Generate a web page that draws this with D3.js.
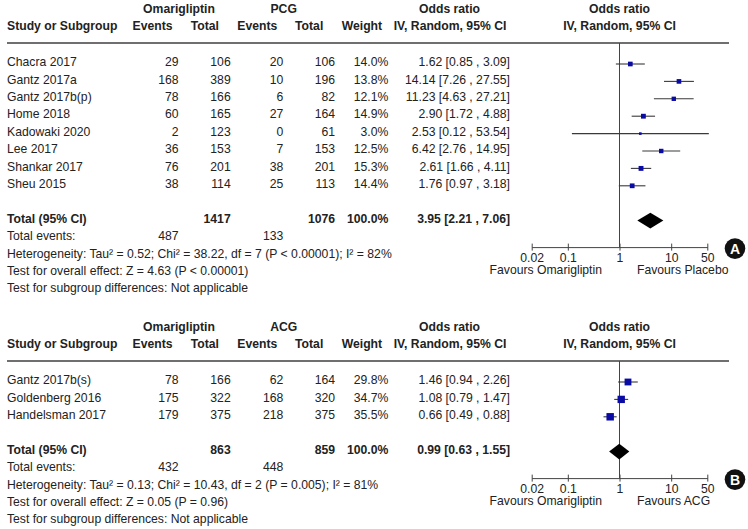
<!DOCTYPE html>
<html><head><meta charset="utf-8">
<script src="https://cdn.jsdelivr.net/npm/d3@7"></script>
<style>
body{margin:0;background:#fff}
text{font-family:"Liberation Sans",Arial,sans-serif;font-size:12.2px;fill:#222}
.b{font-weight:bold}
</style>
</head><body>
<svg id="c" width="748" height="529"></svg>
<script>
// ---------- Data: panel A (Omarigliptin vs PCG) ----------
const studiesA   = ["Chacra 2017","Gantz 2017a","Gantz 2017b(p)","Home 2018","Kadowaki 2020","Lee 2017","Shankar 2017","Sheu 2015"];
const omaEventsA = [29,168,78,60,2,36,76,38];
const omaTotalA  = [106,389,166,165,123,153,201,114];
const ctlEventsA = [20,10,6,27,0,7,38,25];
const ctlTotalA  = [106,196,82,164,61,153,201,113];
const weightA    = [14.0,13.8,12.1,14.9,3.0,12.5,15.3,14.4];
const orA        = [1.62,14.14,11.23,2.90,2.53,6.42,2.61,1.76];
const lowA       = [0.85,7.26,4.63,1.72,0.12,2.76,1.66,0.97];
const highA      = [3.09,27.55,27.21,4.88,53.54,14.95,4.11,3.18];
const totalsA    = [1417,1076];
const totEventsA = [487,133];
const pooledA    = [3.95,2.21,7.06];
const footerA    = ["Heterogeneity: Tau² = 0.52; Chi² = 38.22, df = 7 (P < 0.00001); I² = 82%",
                    "Test for overall effect: Z = 4.63 (P < 0.00001)",
                    "Test for subgroup differences: Not applicable"];

// ---------- Data: panel B (Omarigliptin vs ACG) ----------
const studiesB   = ["Gantz 2017b(s)","Goldenberg 2016","Handelsman 2017"];
const omaEventsB = [78,175,179];
const omaTotalB  = [166,322,375];
const ctlEventsB = [62,168,218];
const ctlTotalB  = [164,320,375];
const weightB    = [29.8,34.7,35.5];
const orB        = [1.46,1.08,0.66];
const lowB       = [0.94,0.79,0.49];
const highB      = [2.26,1.47,0.88];
const totalsB    = [863,859];
const totEventsB = [432,448];
const pooledB    = [0.99,0.63,1.55];
const footerB    = ["Heterogeneity: Tau² = 0.13; Chi² = 10.43, df = 2 (P = 0.005); I² = 81%",
                    "Test for overall effect: Z = 0.05 (P = 0.96)",
                    "Test for subgroup differences: Not applicable"];

// ---------- Axis ticks ----------
const tickValues = [0.02,0.1,1,10,50];
const tickLabels = ["0.02","0.1","1","10","50"];

const svg = d3.select("#c");
const x = d3.scaleLog().domain([0.02,50]).range([531.7,707.3]);
const f2 = d3.format(".2f"), f1 = d3.format(".1f");
const ciText = (o,l,h) => `${f2(o)} [${f2(l)} , ${f2(h)}]`;
const STEP = 17.4;

function panel(p){
  const g = svg.append("g").attr("transform",`translate(0,${p.top})`);
  const n = p.studies.length;
  const y = d3.scaleLinear().domain([0,1]).range([64,64+STEP]);
  const totalY = y(n-1+2);
  const axisY = totalY + 26.5;
  const t = (s,xx,yy,anchor,bold)=>g.append("text").attr("x",xx).attr("y",yy)
      .attr("text-anchor",anchor||"start").attr("class",bold?"b":null).text(s);

  // headers
  t("Omarigliptin",179,12.6,"middle",true);
  t(p.ctlName,283.7,12.6,"middle",true);
  t("Odds ratio",449.5,12.6,"middle",true);
  t("Odds ratio",619.5,12.6,"middle",true);
  t("Study or Subgroup",7,30.3,"start",true);
  t("Events",172.5,30.3,"end",true);
  t("Total",219,30.3,"end",true);
  t("Events",277.3,30.3,"end",true);
  t("Total",323.3,30.3,"end",true);
  t("Weight",341.7,30.3,"start",true);
  t("IV, Random, 95% CI",450,30.3,"middle",true);
  t("IV, Random, 95% CI",619.5,30.3,"middle",true);

  g.append("line").attr("x1",7).attr("x2",729).attr("y1",43).attr("y2",43)
    .attr("stroke","#6f6f6f").attr("stroke-width",2);

  // null line
  g.append("line").attr("x1",x(1)).attr("x2",x(1)).attr("y1",43).attr("y2",axisY)
    .attr("stroke","#444").attr("stroke-width",1);

  // study rows
  p.studies.forEach((s,i)=>{
    const yy = y(i), tb = yy+2.2;
    t(s,7,tb);
    t(p.omaEvents[i],178.5,tb,"end");
    t(p.omaTotal[i],230.7,tb,"end");
    t(p.ctlEvents[i],283.3,tb,"end");
    t(p.ctlTotal[i],335,tb,"end");
    t(f1(p.weight[i])+"%",388.3,tb,"end");
    t(ciText(p.or[i],p.low[i],p.high[i]),510,tb,"end");
    g.append("line").attr("x1",x(Math.max(p.low[i],0.02))).attr("x2",x(p.high[i]))
      .attr("y1",yy).attr("y2",yy).attr("stroke","#3a3a3a").attr("stroke-width",1.1);
    const side = Math.max(2.6,1.25*Math.sqrt(p.weight[i]));
    g.append("rect").attr("x",x(p.or[i])-side/2).attr("y",yy-side/2)
      .attr("width",side).attr("height",side).attr("fill","#0a0aa5");
  });

  // total row
  const tb = totalY+2.2;
  t("Total (95% CI)",7,tb,"start",true);
  t(p.totals[0],230.7,tb,"end",true);
  t(p.totals[1],335,tb,"end",true);
  t("100.0%",388.3,tb,"end",true);
  t(ciText(p.pooled[0],p.pooled[1],p.pooled[2]),510,tb,"end",true);
  const h = 7.8;
  g.append("path").attr("d",`M${x(p.pooled[1])},${totalY}L${x(p.pooled[0])},${totalY-h}L${x(p.pooled[2])},${totalY}L${x(p.pooled[0])},${totalY+h}Z`)
    .attr("fill","#000");

  // footer
  t("Total events:",7,tb+STEP);
  t(p.totEvents[0],178.5,tb+STEP,"end");
  t(p.totEvents[1],283.3,tb+STEP,"end");
  p.footer.forEach((s,k)=>t(s,7,tb+STEP*(k+2)));

  // axis
  const ax = d3.axisBottom(x).tickValues(tickValues)
     .tickFormat((d,i)=>tickLabels[i]).tickSizeInner(3.5).tickSizeOuter(0).tickPadding(2.3);
  const ag = g.append("g").attr("transform",`translate(0,${axisY})`).style("color","#444").call(ax);
  ag.selectAll(".tick line").attr("y1",-3.5);
  ag.select(".domain").attr("stroke-width",1);
  ag.selectAll("text").style("fill","#222");

  t("Favours Omarigliptin",602,axisY+27.3,"end");
  t(p.favRight,637,axisY+27.3,"start");

  // panel label
  g.append("circle").attr("cx",735).attr("cy",axisY+1.5).attr("r",10.3).attr("fill","#111");
  g.append("text").attr("x",735).attr("y",axisY+1.5).attr("dy","0.36em").attr("text-anchor","middle")
    .style("fill","#fff").style("font-weight","bold").style("font-size","14px").text(p.label);
}

panel({top:0,ctlName:"PCG",favRight:"Favours Placebo",label:"A",
  studies:studiesA,omaEvents:omaEventsA,omaTotal:omaTotalA,ctlEvents:ctlEventsA,ctlTotal:ctlTotalA,
  weight:weightA,or:orA,low:lowA,high:highA,totals:totalsA,totEvents:totEventsA,pooled:pooledA,footer:footerA});
panel({top:318,ctlName:"ACG",favRight:"Favours ACG",label:"B",
  studies:studiesB,omaEvents:omaEventsB,omaTotal:omaTotalB,ctlEvents:ctlEventsB,ctlTotal:ctlTotalB,
  weight:weightB,or:orB,low:lowB,high:highB,totals:totalsB,totEvents:totEventsB,pooled:pooledB,footer:footerB});
</script>
</body></html>
